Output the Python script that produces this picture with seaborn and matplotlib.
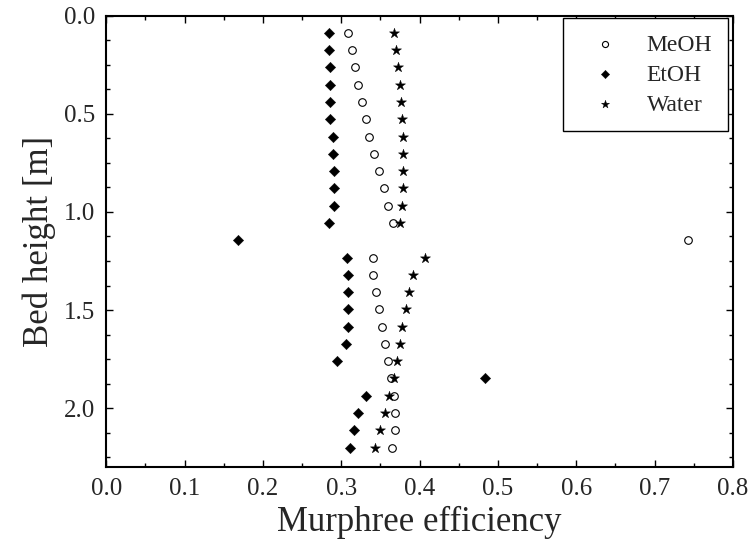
import numpy as np
import matplotlib
matplotlib.use("Agg")
import matplotlib.pyplot as plt
from matplotlib.ticker import MultipleLocator
import seaborn as sns

# bed height of each stage [m]
heights = [0.088, 0.176, 0.264, 0.352, 0.440, 0.528, 0.616, 0.704, 0.792, 0.880,
           0.968, 1.056, 1.144, 1.232, 1.320, 1.408, 1.496, 1.584, 1.672, 1.760,
           1.848, 1.936, 2.024, 2.112, 2.200]

# Murphree efficiency read per stage
meoh = [0.309, 0.314, 0.317, 0.321, 0.327, 0.331, 0.336, 0.342, 0.348, 0.354,
        0.360, 0.366, 0.742, 0.341, 0.341, 0.344, 0.348, 0.352, 0.356, 0.360,
        0.364, 0.367, 0.368, 0.368, 0.365]
etoh = [0.284, 0.284, 0.285, 0.285, 0.286, 0.286, 0.289, 0.290, 0.291, 0.291,
        0.291, 0.284, 0.168, 0.307, 0.309, 0.309, 0.309, 0.308, 0.306, 0.295,
        0.483, 0.331, 0.321, 0.316, 0.311]
water = [0.367, 0.370, 0.373, 0.375, 0.376, 0.377, 0.379, 0.379, 0.379, 0.379,
         0.377, 0.375, np.nan, 0.407, 0.391, 0.387, 0.383, 0.378, 0.375, 0.371,
         0.367, 0.361, 0.356, 0.350, 0.343]

sns.set_style("ticks")
plt.rcParams['font.family'] = ['Liberation Serif', 'DejaVu Serif']

fig, ax = plt.subplots(figsize=(7.51, 5.48), dpi=100)
fig.subplots_adjust(left=0.1415, right=0.976, top=0.9717, bottom=0.1473)

sns.scatterplot(x=meoh, y=heights, marker='o', s=30, facecolor='white',
                edgecolor='black', linewidth=0.8, label='MeOH', ax=ax, zorder=3)
sns.scatterplot(x=etoh, y=heights, marker='D', s=28, color='black',
                edgecolor='black', linewidth=0.3, label='EtOH', ax=ax, zorder=3)
sns.scatterplot(x=water, y=heights, marker='*', s=58, color='black',
                edgecolor='black', linewidth=0.3, label='Water', ax=ax, zorder=3)

ax.set_xlim(0, 0.8)
ax.set_ylim(2.3, 0)
ax.xaxis.set_major_locator(MultipleLocator(0.1))
ax.xaxis.set_minor_locator(MultipleLocator(0.05))
ax.yaxis.set_major_locator(MultipleLocator(0.5))
ax.yaxis.set_minor_locator(MultipleLocator(0.125))
ax.xaxis.set_major_formatter(lambda v, p: f"{v:.1f}")
ax.yaxis.set_major_formatter(lambda v, p: f"{v:.1f}")

ax.tick_params(which='both', direction='in', top=True, right=True,
               width=1.0, labelsize=18, color='black', pad=8)
ax.tick_params(which='major', length=5)
ax.tick_params(which='minor', length=3)
for sp in ax.spines.values():
    sp.set_linewidth(1.5)
    sp.set_color('black')

ax.set_xlabel('Murphree efficiency', fontsize=25, labelpad=4)
ax.set_ylabel('Bed height [m]', fontsize=25, labelpad=6)

leg = ax.legend(loc='upper right', bbox_to_anchor=(0.992, 0.994), borderaxespad=0,
                fontsize=17, frameon=True, fancybox=False, edgecolor='black',
                borderpad=0.67, labelspacing=0.36, handlelength=2.2,
                handletextpad=0.67, markerscale=0.8)
leg.get_frame().set_linewidth(1.0)
leg.get_frame().set_alpha(1)

plt.savefig('out.png', dpi=100)
